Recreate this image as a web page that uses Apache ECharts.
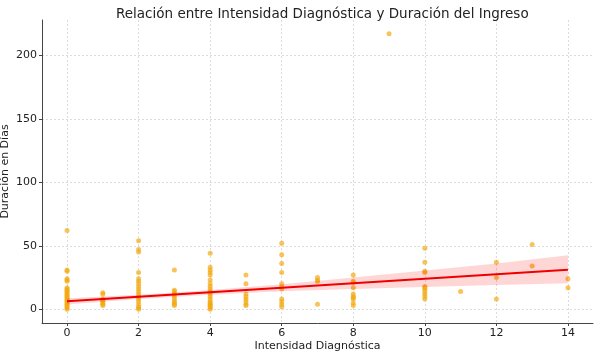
<!DOCTYPE html>
<html>
<head>
<meta charset="utf-8">
<script src="https://cdn.jsdelivr.net/npm/echarts@6/dist/echarts.min.js"></script>
<style>
  html, body { margin: 0; padding: 0; background: #fff; }
  #chart { width: 600px; height: 357px; }
</style>
</head>
<body>
<div id="chart"></div>
<script>
// points per intensity level: [intensidad, dias]
const pointsByX = {
  0: [0, 1, 2, 3, 4, 5, 6, 7, 8, 9, 10, 11, 12, 13, 14, 15, 16, 17, 22, 23, 24, 30, 31, 62],
  1: [3, 4, 5, 6, 7, 8, 12, 13],
  2: [0, 1, 2, 4, 6, 8, 10, 12, 14, 16, 18, 20, 22, 24, 29, 45, 47, 54],
  3: [3, 4, 5, 6, 8, 10, 12, 14, 15, 31],
  4: [0, 1, 2, 3, 4, 5, 6, 8, 10, 12, 14, 16, 18, 20, 23, 27, 29, 31, 33, 44],
  5: [3, 4, 6, 8, 10, 12, 20, 27],
  6: [2, 4, 6, 8, 16, 18, 20, 29, 36, 43, 52],
  7: [4, 22, 23, 25],
  8: [3, 5, 8, 9, 10, 12, 17, 21, 22, 27],
  9: [217],
  10: [8, 10, 12, 14, 16, 17, 18, 29, 30, 37, 48],
  11: [14],
  12: [8, 25, 37],
  13: [34, 51],
  14: [17, 24]
}
const scatterData = []
Object.keys(pointsByX).forEach((k) => {
  pointsByX[k].forEach((v) => scatterData.push([Number(k), v]))
})

// regression line and confidence band
const fitX = [0, 2, 4, 6, 8, 10, 12, 14]
const fitY = [6.2, 9.8, 13.3, 16.9, 20.4, 24.0, 27.5, 31.1]
const bandLower = [3.8, 8.1, 11.5, 14.1, 15.9, 17.5, 19.0, 20.5]
const bandUpper = [8.6, 11.5, 15.1, 19.7, 24.9, 30.5, 36.0, 42.5]

const xTicks = [0, 2, 4, 6, 8, 10, 12, 14]
const yTicks = [0, 50, 100, 150, 200]

const chart = echarts.init(document.getElementById('chart'))
const font = 'DejaVu Sans'

const gridLine = { show: true, lineStyle: { color: '#d4d4d4', type: [2, 2], width: 0.8 } }

function renderBand(params, api) {
  if (params.dataIndex !== 0) return
  const upper = fitX.map((x, i) => api.coord([x, bandUpper[i]]))
  const lower = fitX.map((x, i) => api.coord([x, bandLower[i]])).reverse()
  return {
    type: 'polygon',
    shape: { points: upper.concat(lower) },
    style: { fill: 'rgba(255,0,0,0.16)' },
  }
}

chart.setOption({
  animation: false,
  title: {
    text: 'Relación entre Intensidad Diagnóstica y Duración del Ingreso',
    left: 111,
    top: 2,
    textStyle: { fontFamily: font, fontSize: 13.5, fontWeight: 'normal', color: '#222' },
  },
  grid: { left: 42, right: 7, top: 20, bottom: 34, outerBoundsMode: 'none', containLabel: false },
  xAxis: {
    type: 'value',
    min: -0.7,
    max: 14.7,
    name: 'Intensidad Diagnóstica',
    nameLocation: 'middle',
    nameGap: 18,
    nameMoveOverlap: false,
    nameTextStyle: { fontFamily: font, fontSize: 11, color: '#222' },
    axisLine: { onZero: false, lineStyle: { color: '#444', width: 1 } },
    axisTick: { customValues: xTicks, length: 3, lineStyle: { color: '#444' } },
    axisLabel: { customValues: xTicks, fontFamily: font, fontSize: 11, color: '#222', margin: 5 },
    splitLine: gridLine,
  },
  yAxis: {
    type: 'value',
    min: -10.85,
    max: 227.85,
    name: 'Duración en Días',
    nameLocation: 'middle',
    nameGap: 31,
    nameMoveOverlap: false,
    nameTextStyle: { fontFamily: font, fontSize: 11, color: '#222' },
    axisLine: { show: true, onZero: false, lineStyle: { color: '#444', width: 1 } },
    axisTick: { show: true, customValues: yTicks, length: 3, lineStyle: { color: '#444' } },
    axisLabel: { customValues: yTicks, fontFamily: font, fontSize: 11, color: '#222', margin: 5 },
    splitLine: gridLine,
  },
  series: [
    {
      type: 'scatter',
      data: scatterData,
      symbolSize: 5,
      itemStyle: { color: 'rgba(243,168,16,0.85)' },
      z: 2,
    },
    {
      type: 'custom',
      renderItem: renderBand,
      data: fitX.map((x, i) => [x, bandLower[i], bandUpper[i]]),
      encode: { x: 0, y: [1, 2] },
      silent: true,
      z: 3,
    },
    {
      type: 'line',
      data: fitX.map((x, i) => [x, fitY[i]]),
      showSymbol: false,
      lineStyle: { color: '#ee0000', width: 2 },
      z: 4,
    },
  ],
})
</script>
</body>
</html>
